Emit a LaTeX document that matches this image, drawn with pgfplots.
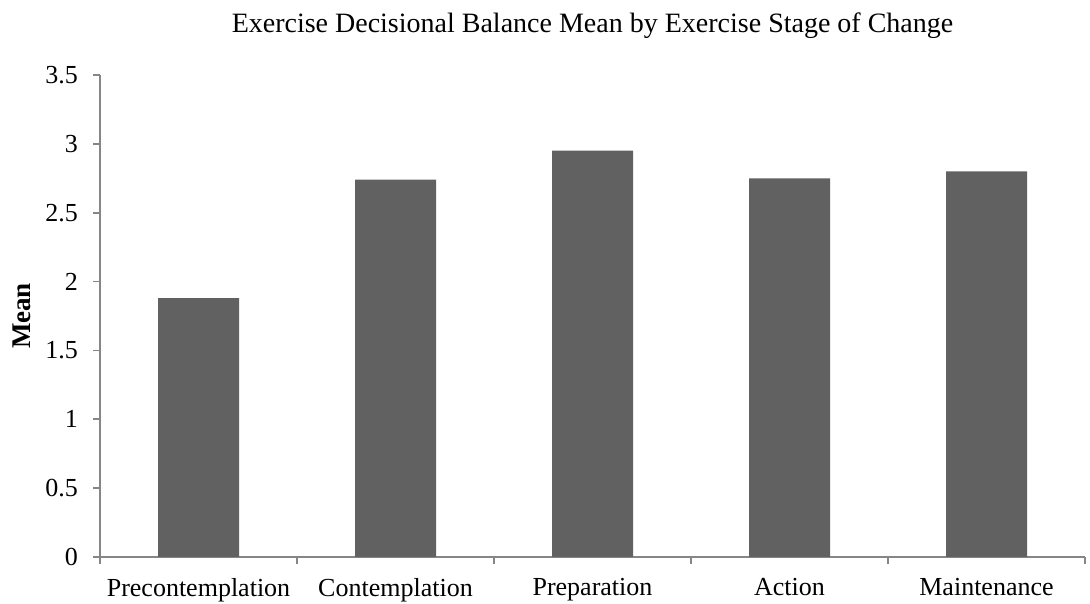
\documentclass[border=0pt]{standalone}
\usepackage{pgfplots}
\pgfplotsset{compat=1.18}
\usepackage{fontspec}
\setmainfont{Liberation Serif}
\definecolor{barc}{RGB}{97,97,97}
\definecolor{axc}{RGB}{134,134,134}
\begin{document}
\begin{tikzpicture}
\begin{axis}[name=ax, scale only axis, width=492.5bp, height=241bp,
  xmin=-0.5, xmax=4.5, ymin=0, ymax=3.5,
  axis lines=left, axis line style={-, draw=axc, line width=0.9bp},
  ytick={0,0.5,1,1.5,2,2.5,3,3.5},
  xtick={-0.5,0.5,1.5,2.5,3.5,4.5},
  x tick label as interval,
  xticklabels={Precontemplation,Contemplation,Preparation,Action,Maintenance},
  tick align=outside, tick style={draw=axc, line width=0.9bp},
  major tick length=3.5bp,
  /pgf/number format/assume math mode=true,
  ticklabel style={font=\fontsize{13bp}{15bp}\selectfont},
  yticklabel style={xshift=-4bp},
  xticklabel style={yshift=-3.5bp},
  title={Exercise Decisional Balance Mean by Exercise Stage of Change},
  title style={font=\fontsize{14bp}{16bp}\selectfont, at={(0.5,1)}, anchor=base, yshift=15.5bp},
  ylabel={Mean},
  every axis y label/.style={at={(axis description cs:-0.0792,0.5)}, rotate=90, anchor=center, font=\fontsize{13.5bp}{15bp}\selectfont\bfseries},
]
\addplot[ybar, bar width=40.5bp, fill=barc, draw=none] coordinates {
  (0,1.88) (1,2.74) (2,2.95) (3,2.75) (4,2.80)
};
\end{axis}
\pgfresetboundingbox
\path ([xshift=-50bp,yshift=-23.5bp]ax.south west) rectangle ([xshift=2.5bp,yshift=37.5bp]ax.north east);
\end{tikzpicture}
\end{document}
